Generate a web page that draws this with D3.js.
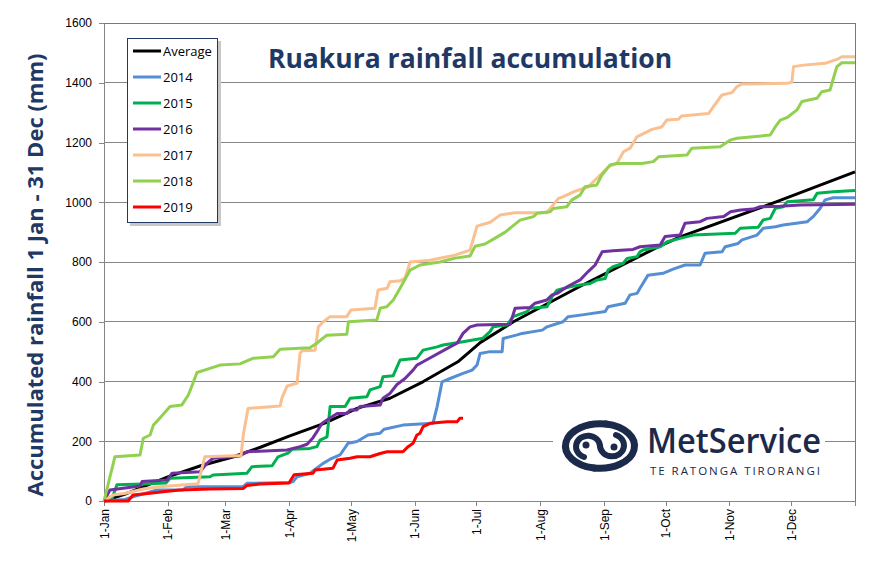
<!DOCTYPE html>
<html>
<head>
<meta charset="utf-8">
<script src="https://cdn.jsdelivr.net/npm/d3@7"></script>
<style>
  html, body { margin: 0; padding: 0; background: #fff; }
  svg { display: block; }
</style>
</head>
<body>
<svg id="chart" width="871" height="566"></svg>
<script>
// ---------------- DATA ----------------
const categories = ["Average", "2014", "2015", "2016", "2017", "2018", "2019"];
const seriesColors = ["#000000", "#558ed5", "#00b050", "#7030a0", "#fac090", "#92d050", "#ff0000"];

const monthTickDays = [0, 31, 59, 90, 120, 151, 181, 212, 243, 273, 304, 334, 365];
const monthTickLabels = ["1-Jan", "1-Feb", "1-Mar", "1-Apr", "1-May", "1-Jun", "1-Jul", "1-Aug", "1-Sep", "1-Oct", "1-Nov", "1-Dec", ""];
const yTickValues = [0, 200, 400, 600, 800, 1000, 1200, 1400, 1600];

// [day of year, accumulated mm]
const seriesAverage = [[0,0],[10,22],[31,81],[47,118],[63,148],[76,180],[90,217],[107,260],[123,310],[139,344],[155,399],[172,466],[183,531],[199,600],[231,717],[270,853],[280,884],[327,1002],[365,1102]];

const series2014 = [[0,0],[10.2,5],[14.1,14],[22.4,30],[25.8,37],[38.4,37],[40.3,48],[67.6,48],[69.5,59],[90.4,62],[91.9,65],[93.8,81],[100.1,93],[106.5,126],[109.9,140],[114.7,154],[118.6,193],[123,199],[128.3,221],[134.2,227],[136.1,240],[145.3,254],[159.9,260],[161.9,316],[164.3,399],[168.2,410],[174.5,427],[178.9,438],[181.3,455],[182.8,494],[187.6,500],[193.5,500],[194,544],[200.8,556],[203.2,561],[213,572],[215.3,583],[223.1,600],[225.6,617],[232.4,623],[243.6,634],[245,650],[253.3,662],[255.7,690],[259.1,695],[260.5,712],[264.4,756],[271.7,762],[276.6,776],[282.4,790],[289.7,790],[292.1,829],[300.4,834],[301.9,851],[308.2,862],[310.1,874],[317.4,890],[320.4,913],[326.3,918],[330.1,924],[341.8,935],[344.7,952],[348.1,980],[350.5,1008],[354.4,1015],[365,1015]];

const series2015 = [[0,0],[3.9,8],[6.3,54],[19,57],[30.1,60],[32.1,76],[51.5,81],[53,87],[69.5,93],[71.9,115],[81.7,118],[84.6,148],[89.4,160],[91.4,173],[100.1,176],[103.5,182],[105,204],[108.4,215],[109.9,316],[117.2,316],[119.6,344],[127.8,349],[129.3,372],[134.2,383],[135.6,416],[140.5,419],[143.9,472],[152.1,478],[155.1,505],[161.9,516],[164.8,522],[174.5,533],[184.2,545],[187.6,567],[189.1,583],[195.9,589],[198.8,617],[205.6,634],[207.1,645],[215.3,650],[217.8,684],[220.2,706],[226.5,717],[231.4,723],[236.3,728],[239.7,740],[243.6,745],[245,773],[247.4,784],[252.3,795],[254.2,812],[259.1,818],[260.5,834],[262,840],[270.3,851],[273.7,868],[280,879],[286.4,890],[306.8,896],[309.2,913],[317.9,916],[320.4,941],[323.8,946],[326.3,980],[330.1,985],[332.1,1002],[344.7,1008],[346.6,1030],[354.4,1035],[365,1039]];

const series2016 = [[0,0],[2.9,37],[17.5,50],[18.5,65],[30.6,70],[33.1,93],[46.7,98],[50.1,127],[53,143],[66.1,151],[69.5,165],[89,171],[95.3,182],[98.7,190],[101.6,212],[103.5,232],[106,260],[108.4,271],[113.3,293],[118.1,293],[119.6,305],[123,305],[124.4,316],[134.2,321],[135.6,344],[139,360],[142.4,390],[146.3,410],[150.2,438],[152.1,455],[155.1,466],[168.2,516],[171.6,528],[174.5,561],[177.9,583],[181.3,589],[197.4,592],[199.8,645],[207.1,648],[209.5,662],[215.3,673],[217.8,690],[220.2,695],[225.1,717],[231.4,740],[235.3,768],[238.7,790],[242.1,834],[247.4,838],[257.1,842],[260.5,851],[270.3,857],[272.7,885],[280,890],[282.4,930],[289.7,935],[293.1,946],[301.2,952],[304.5,968],[309.4,974],[315.5,977],[318.9,985],[328.6,987],[338.3,991],[365,993]];

const series2017 = [[0,0],[4.4,20],[10,25],[19,40],[27,48],[45.7,58],[49,148],[66.6,152],[67.7,221],[70,310],[85.6,318],[86.5,345],[89,385],[93.8,394],[95.3,494],[96.3,503],[102.6,505],[104.2,583],[106.6,600],[109.9,617],[118,617],[120,639],[131.7,645],[133.2,706],[137.6,712],[139,734],[143.9,737],[146.3,746],[148.8,800],[158.5,806],[170.6,823],[177.9,840],[181.3,920],[187.7,933],[192.5,957],[199.8,965],[215.2,965],[220.9,1013],[223.3,1019],[228.2,1035],[235.4,1052],[242,1097],[245.2,1119],[249.2,1130],[252.5,1169],[255.7,1181],[259,1219],[262.2,1230],[266.3,1244],[271.1,1252],[273.5,1275],[279.2,1278],[280.8,1289],[293.8,1297],[296.2,1320],[300.3,1359],[305.2,1367],[307.6,1387],[310,1396],[331.9,1398],[334.3,1402],[335.1,1454],[340,1459],[350.5,1465],[356.2,1478],[358.6,1487],[365,1487]];

const series2018 = [[0,0],[5.3,148],[17.5,154],[19.1,210],[22.4,221],[24,254],[27.2,278],[32.1,316],[37.8,321],[41,355],[42.6,383],[45.2,430],[51.5,444],[56.4,455],[66.1,459],[72.6,478],[82.3,483],[85.6,508],[100.1,513],[103.4,528],[108.3,555],[118,558],[118.8,600],[132.6,606],[134.2,645],[137.4,650],[140.6,673],[143.9,712],[148.8,773],[153.6,790],[163.3,800],[170.6,813],[177.9,820],[180.4,853],[185.2,860],[190.1,880],[195,900],[202.2,940],[208.7,952],[210.4,963],[216.8,968],[218.4,979],[224.9,985],[227.4,1008],[231.4,1024],[233.8,1052],[239.5,1058],[242,1091],[246,1125],[249.2,1130],[261.4,1130],[267,1136],[269.5,1152],[283.3,1158],[285.7,1181],[299.5,1186],[304.4,1208],[307.6,1214],[323.8,1225],[326.3,1253],[328.7,1275],[331.9,1283],[336.8,1309],[339.2,1337],[346.5,1348],[348.9,1370],[352.9,1376],[354.5,1415],[356.2,1454],[358.6,1467],[365,1467]];

const series2019 = [[0,0],[11.7,0],[14.1,20],[22.4,26],[28.7,31],[36.9,37],[51.5,40],[67.6,42],[69.5,52],[75.8,57],[89.9,60],[92.4,88],[101.6,93],[102.6,104],[111.3,110],[113.3,137],[119.6,143],[123,148],[129.3,148],[134.2,159],[137.6,165],[145.3,165],[147.8,182],[150.2,193],[152.1,221],[153.6,227],[155.1,249],[158.5,260],[166.7,265],[171.6,265],[173,277],[174.5,277]];

const allSeries = [seriesAverage, series2014, series2015, series2016, series2017, series2018, series2019];

// ---------------- CHART ----------------
const svg = d3.select("#chart");
const navy = "#1f3864";
const axisGray = "#868686";

const x = d3.scaleLinear().domain([0, 365]).range([104, 855]);
const y = d3.scaleLinear().domain([0, 1600]).range([501, 23]);

// gridlines
svg.append("g").selectAll("line")
  .data(yTickValues.filter(d => d > 0))
  .join("line")
  .attr("x1", x(0)).attr("x2", x(365))
  .attr("y1", d => y(d)).attr("y2", d => y(d))
  .attr("stroke", axisGray).attr("stroke-width", 1).attr("shape-rendering", "crispEdges");

// plot border
svg.append("rect")
  .attr("x", x(0)).attr("y", y(1600))
  .attr("width", x(365) - x(0)).attr("height", y(0) - y(1600))
  .attr("fill", "none").attr("stroke", "#4f81bd").attr("stroke-width", 1)
  .attr("shape-rendering", "crispEdges");

// axes
const yAxis = svg.append("g")
  .attr("transform", `translate(${x(0)},0)`)
  .call(d3.axisLeft(y).tickValues(yTickValues).tickFormat(d3.format("d")).tickSize(5).tickSizeOuter(0).tickPadding(7));
const xAxis = svg.append("g")
  .attr("transform", `translate(0,${y(0)})`)
  .call(d3.axisBottom(x).tickValues(monthTickDays).tickFormat((d, i) => monthTickLabels[i]).tickSize(5).tickSizeOuter(0));

[yAxis, xAxis].forEach(g => {
  g.select(".domain").attr("stroke", axisGray).attr("shape-rendering", "crispEdges");
  g.selectAll(".tick line").attr("stroke", axisGray).attr("shape-rendering", "crispEdges");
  g.selectAll("text").attr("fill", "#000").style("font-family", "'Liberation Sans', Arial, sans-serif").style("font-size", "12px");
});
xAxis.selectAll("text")
  .attr("transform", "rotate(-90)")
  .attr("text-anchor", "end")
  .attr("x", -8).attr("y", 0).attr("dy", "0.35em");

// logo (white backing over gridline)
const logo = svg.append("g");
logo.append("rect").attr("x", 553).attr("y", 414).attr("width", 272).attr("height", 64).attr("fill", "#fff");
const ic = logo.append("g").attr("fill", "none").attr("stroke", "#1b2a4a").attr("stroke-linecap", "round");
ic.append("path").attr("stroke-width", 7)
  .attr("d", "M 606 424 A 34 22 0 0 0 594 468");
ic.append("path").attr("stroke-width", 6)
  .attr("d", "M 584 457 A 12 11 0 1 1 600 446");
ic.append("path").attr("stroke-width", 7)
  .attr("d", "M 594 468 A 34 22 0 0 0 606 424");
ic.append("path").attr("stroke-width", 6)
  .attr("d", "M 616 435 A 12 11 0 1 1 600 446");
ic.append("circle").attr("cx", 586).attr("cy", 445).attr("r", 3.5).attr("fill", "#1b2a4a").attr("stroke", "none");
ic.append("circle").attr("cx", 614).attr("cy", 447).attr("r", 3.5).attr("fill", "#1b2a4a").attr("stroke", "none");

logo.append("text").attr("x", 647).attr("y", 453)
  .attr("textLength", 174).attr("lengthAdjust", "spacingAndGlyphs")
  .style("font-family", "'Open Sans', sans-serif").style("font-weight", 600).style("font-size", "34px")
  .attr("fill", "#1b2a4a").text("MetService");
logo.append("text").attr("x", 650).attr("y", 475)
  .attr("textLength", 170).attr("lengthAdjust", "spacing")
  .style("font-family", "'Open Sans', sans-serif").style("font-size", "11.5px")
  .attr("fill", "#1b2a4a").text("TE RATONGA TIRORANGI");

// series lines
const line = d3.line().x(d => x(d[0])).y(d => y(d[1]));
svg.append("g").selectAll("path")
  .data(allSeries)
  .join("path")
  .attr("d", line)
  .attr("fill", "none")
  .attr("stroke", (d, i) => seriesColors[i])
  .attr("stroke-width", 3)
  .attr("stroke-linejoin", "round");

// title
svg.append("text")
  .attr("x", 470).attr("y", 68)
  .attr("text-anchor", "middle")
  .style("font-family", "'Open Sans', sans-serif").style("font-weight", 700).style("font-size", "26.5px")
  .attr("fill", navy)
  .text("Ruakura rainfall accumulation");

// y-axis title
svg.append("text")
  .attr("transform", "translate(35,275) rotate(-90)")
  .attr("text-anchor", "middle").attr("dy", "0.35em")
  .style("font-family", "'Open Sans', sans-serif").style("font-weight", 700).style("font-size", "22px")
  .attr("fill", navy)
  .text("Accumulated rainfall 1 Jan - 31 Dec (mm)");

// legend
const lg = svg.append("g");
lg.append("rect").attr("x", 130).attr("y", 41).attr("width", 91).attr("height", 185).attr("fill", "#c8c8c8");
lg.append("rect").attr("x", 127.5).attr("y", 38.5).attr("width", 90).attr("height", 184)
  .attr("fill", "#fff").attr("stroke", navy).attr("stroke-width", 1);
const items = lg.selectAll("g.item").data(categories).join("g")
  .attr("transform", (d, i) => `translate(0,${51 + i * 26})`);
items.append("line").attr("x1", 133).attr("x2", 161).attr("y1", 0).attr("y2", 0)
  .attr("stroke", (d, i) => seriesColors[i]).attr("stroke-width", 3);
items.append("text").attr("x", 163).attr("y", 0).attr("dy", "0.35em")
  .style("font-family", "'Open Sans', sans-serif").style("font-size", "13px")
  .attr("fill", "#000").text(d => d);
</script>
</body>
</html>
